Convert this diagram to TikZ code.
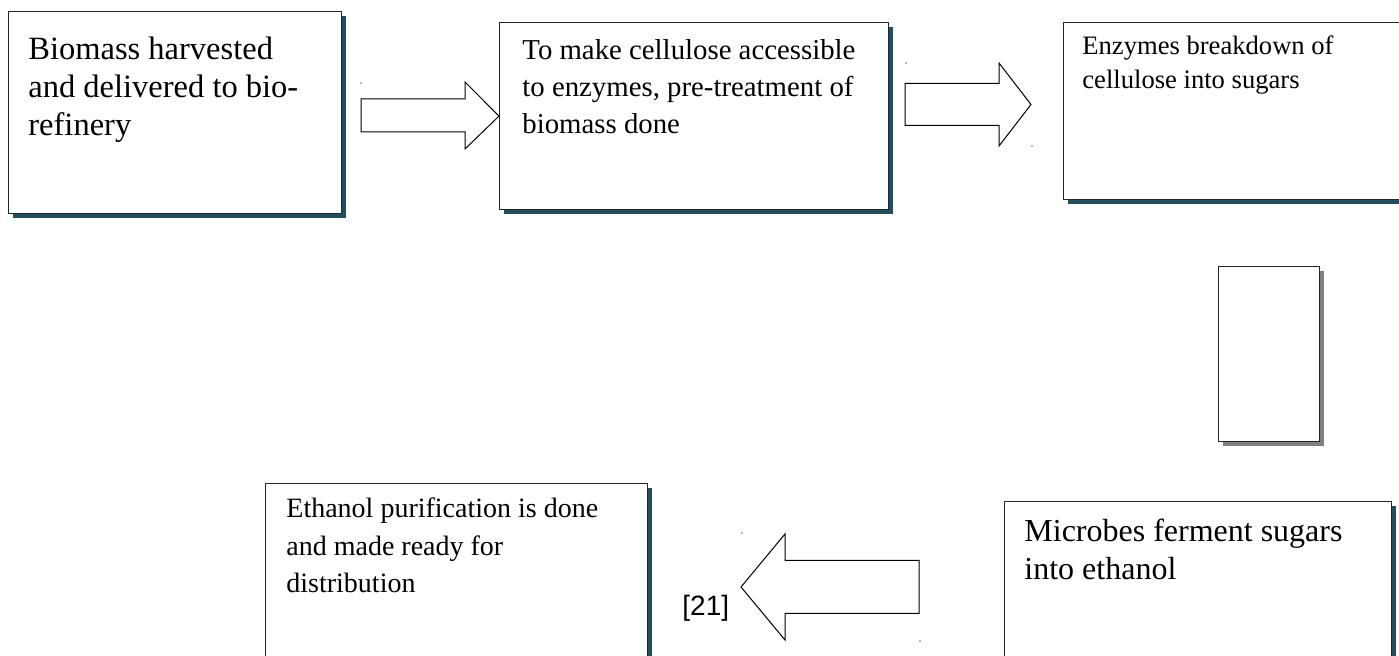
\documentclass[tikz,border=0pt]{standalone}
\usepackage{fontspec}
\setmainfont{Liberation Serif}
\newfontfamily\refsans{Liberation Sans}
\usetikzlibrary{calc,shadows}
\definecolor{deepteal}{RGB}{30,80,96}
\definecolor{midgray}{RGB}{128,128,128}
\tikzset{
  panel/.style={draw=black!85, line width=0.6pt, fill=white, anchor=north west, inner sep=0pt},
  stage/.style={panel, drop shadow={shadow xshift=2pt, shadow yshift=-2pt, fill=deepteal, opacity=1}},
  spare/.style={panel, drop shadow={shadow xshift=2pt, shadow yshift=-2pt, fill=midgray, opacity=1}},
  caption/.style={anchor=base west, align=left, inner sep=0pt},
  block/.style n args={3}{draw=black, line width=0.5pt, fill=white, to path={
      let \p1=(\tikztostart), \p2=(\tikztotarget),
          \p3=($(\tikztotarget)!#3*0.5pt!(\tikztostart)$) in
      (\x1,\y1+#1*0.5pt) -- (\x3,\y1+#1*0.5pt) -- (\x3,\y1+#2*0.5pt) -- (\p2)
      -- (\x3,\y1-#2*0.5pt) -- (\x3,\y1-#1*0.5pt) -- (\x1,\y1-#1*0.5pt) -- cycle}},
  speck/.style={fill=black!55},
}
\begin{document}
\begin{tikzpicture}[x=0.5pt, y=-0.5pt]
  \useasboundingbox (0,0) rectangle (1399,656);
  \clip (0,0) rectangle (1399,656);
  \fill[white] (0,0) rectangle (1399,656);
  % process boxes, top row
  \node[stage, minimum width=166.5pt, minimum height=101pt] (harvest) at (8,11) {};
  \node[stage, minimum width=194.5pt, minimum height=93.5pt] (pretreat) at (499,22) {};
  \node[stage, minimum width=178.5pt, minimum height=88.5pt] (enzyme) at (1063,22) {};
  \node[spare, minimum width=50.5pt, minimum height=87.5pt] (blank) at (1218,266) {};
  % bottom row
  \node[stage, minimum width=191pt, minimum height=98.5pt] (purify) at (265,483) {};
  \node[stage, minimum width=193.5pt, minimum height=89.5pt] (ferment) at (1004,501) {};
  % texts, placed by the baseline of their last line
  \node[caption, font=\fontsize{16.25pt}{19pt}\selectfont] (harvesttxt) at (28,136)
    {Biomass harvested\\and delivered to bio-\\refinery};
  \node[caption, font=\fontsize{14.4pt}{18.5pt}\selectfont] (pretreattxt) at (522,134)
    {To make cellulose accessible\\to enzymes, pre-treatment of\\biomass done};
  \node[caption, font=\fontsize{13.3pt}{17pt}\selectfont] (enzymetxt) at (1082,89)
    {Enzymes breakdown of\\cellulose into sugars};
  \node[caption, font=\fontsize{14pt}{18.75pt}\selectfont] (purifytxt) at (286,593)
    {Ethanol purification is done\\and made ready for\\distribution};
  \node[caption, font=\fontsize{16pt}{19pt}\selectfont] (fermenttxt) at (1024,580)
    {Microbes ferment sugars\\into ethanol};
  \node[caption, font=\refsans\fontsize{14pt}{17pt}\selectfont] (cite) at (682,616) {[21]};
  % block arrows
  \coordinate (a1) at (361,115.5);
  \coordinate (a2) at (905,104.5);
  \coordinate (a2end) at (1031,104.5);
  \coordinate (a3) at (919,587);
  \coordinate (a3end) at (741,587);
  \draw[block={16.5}{33.5}{34}] (a1) to (pretreat.west);
  \draw[block={21}{41.5}{32}] (a2) to (a2end);
  \draw[block={26.5}{53}{44}] (a3) to (a3end);
  \foreach \p in {(361,83),(906,63),(1032,146),(742,533),(920,641)}
    \fill[speck] \p circle (0.45pt);
\end{tikzpicture}
\end{document}
